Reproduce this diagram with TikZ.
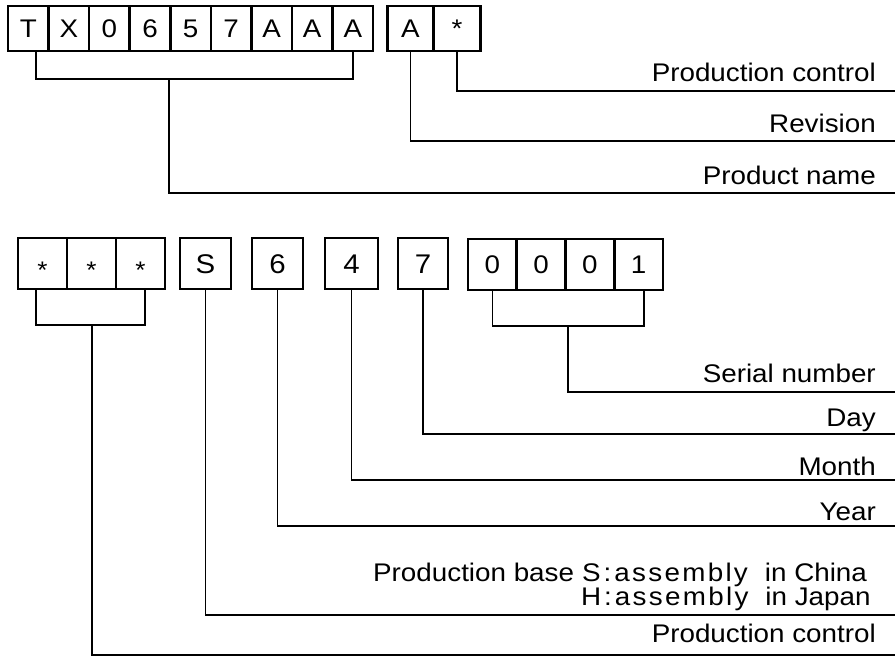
\documentclass[tikz,border=0pt]{standalone}
\usepackage{fontspec}
\setmainfont{Liberation Sans}[FakeStretch=1.09]
\begin{document}
\begin{tikzpicture}[x=1pt, y=-1pt,
        top/.style={draw, line width=2.6pt, inner sep=0pt, minimum height=45pt, font=\fontsize{25.5}{29}\selectfont, text height=18.3pt, text depth=0pt},
        low/.style={draw, line width=2.6pt, inner sep=0pt, minimum height=51pt, font=\fontsize{27}{31}\selectfont, text height=19.4pt, text depth=0pt},
        lbl/.style={inner sep=0pt, font=\fontsize{25.5}{29}\selectfont},
        wire/.style={line width=1.8pt}]
            \useasboundingbox (0,0) rectangle (895,657);

            \node (1) [top, minimum width=40.6pt] at (28.3,28.5) {T};
            \node (2) [top, minimum width=40.6pt, node distance=40.56pt, right of=1] {X};
            \node (3) [top, minimum width=40.6pt, node distance=40.56pt, right of=2] {0};
            \node (4) [top, minimum width=40.6pt, node distance=40.56pt, right of=3] {6};
            \node (5) [top, minimum width=40.6pt, node distance=40.56pt, right of=4] {5};
            \node (6) [top, minimum width=40.6pt, node distance=40.56pt, right of=5] {7};
            \node (7) [top, minimum width=40.6pt, node distance=40.56pt, right of=6] {A};
            \node (8) [top, minimum width=40.6pt, node distance=40.56pt, right of=7] {A};
            \node (9) [top, minimum width=40.6pt, node distance=40.56pt, right of=8] {A};

            \node (10) [top, minimum width=46.5pt] at (410.5,28.5) {A};
            \node (11) [top, minimum width=46.5pt, node distance=46.5pt, right of=10] {*};

            \node (12) [low, minimum width=49pt, font=\fontsize{24}{28}\selectfont] at (42.5,263.5) {\raisebox{-5pt}{*}};
            \node (13) [low, minimum width=49pt, font=\fontsize{24}{28}\selectfont, node distance=49pt, right of=12] {\raisebox{-5pt}{*}};
            \node (14) [low, minimum width=49pt, font=\fontsize{24}{28}\selectfont, node distance=49pt, right of=13] {\raisebox{-5pt}{*}};
            \node (15) [low, minimum width=51pt] at (205.5,263.5) {S};
            \node (16) [low, minimum width=51pt] at (277.5,263.5) {6};
            \node (17) [low, minimum width=53pt] at (351.5,263.5) {4};
            \node (18) [low, minimum width=50pt] at (423,263.5) {7};
            \node (19) [low, minimum width=48.8pt, font=\fontsize{25.5}{29}\selectfont, text height=18pt] at (492.4,264.5) {0};
            \node (20) [low, minimum width=48.8pt, font=\fontsize{25.5}{29}\selectfont, text height=18pt, node distance=48.75pt, right of=19] {0};
            \node (21) [low, minimum width=48.8pt, font=\fontsize{25.5}{29}\selectfont, text height=18pt, node distance=48.75pt, right of=20] {0};
            \node (22) [low, minimum width=48.8pt, font=\fontsize{25.5}{29}\selectfont, text height=18pt, node distance=48.75pt, right of=21] {1};

            \node (23) [lbl, anchor=base east] at (876,81) {Production control};
            \node (24) [lbl, anchor=base east] at (876,132) {Revision};
            \node (25) [lbl, anchor=base east] at (876,184) {Product name};
            \node (26) [lbl, anchor=base east] at (876,382) {Serial number};
            \node (27) [lbl, anchor=base east] at (876,426) {Day};
            \node (28) [lbl, anchor=base east] at (876,475) {Month};
            \node (29) [lbl, anchor=base east] at (876,520) {Year};
            \node (30) [lbl, anchor=base west] at (373,581) {Production base};
            \node (31) [lbl, anchor=base west] at (582,581) {S\kern3pt:\kern3pt{\addfontfeature{LetterSpace=9}assembly}\hspace{17pt}in China};
            \node (32) [lbl, anchor=base west] at (581,605) {H\kern3pt:\kern3pt{\addfontfeature{LetterSpace=9}assembly}\hspace{17pt}in Japan};
            \node (33) [lbl, anchor=base east] at (876,642) {Production control};

            \coordinate (r1) at (895,91);
            \coordinate (r2) at (895,141);
            \coordinate (r3) at (895,193);
            \coordinate (r4) at (895,392);
            \coordinate (r5) at (895,434);
            \coordinate (r6) at (895,480);
            \coordinate (r7) at (895,526);
            \coordinate (r8) at (895,615);
            \coordinate (r9) at (895,655);
            \coordinate (k1) at (169,79);
            \coordinate (k2) at (92,325);
            \coordinate (k3) at (568,326);

            \draw [wire] ([xshift=7.7pt]1.south) |- (k1) -| (9.south);
            \draw [wire] (k1) |- (r3);
            \draw [wire] (10.south) |- (r2);
            \draw [wire] (11.south) |- (r1);

            \draw [wire] ([xshift=-6.5pt]12.south) |- (k2) -| ([xshift=4.5pt]14.south);
            \draw [wire] (k2) |- (r9);
            \draw [wire] (15.south) |- (r8);
            \draw [wire] (16.south) |- (r7);
            \draw [wire] (17.south) |- (r6);
            \draw [wire] (18.south) |- (r5);
            \draw [wire] (19.south) |- (k3) -| ([xshift=5.5pt]22.south);
            \draw [wire] (k3) |- (r4);
        \end{tikzpicture}
\end{document}
